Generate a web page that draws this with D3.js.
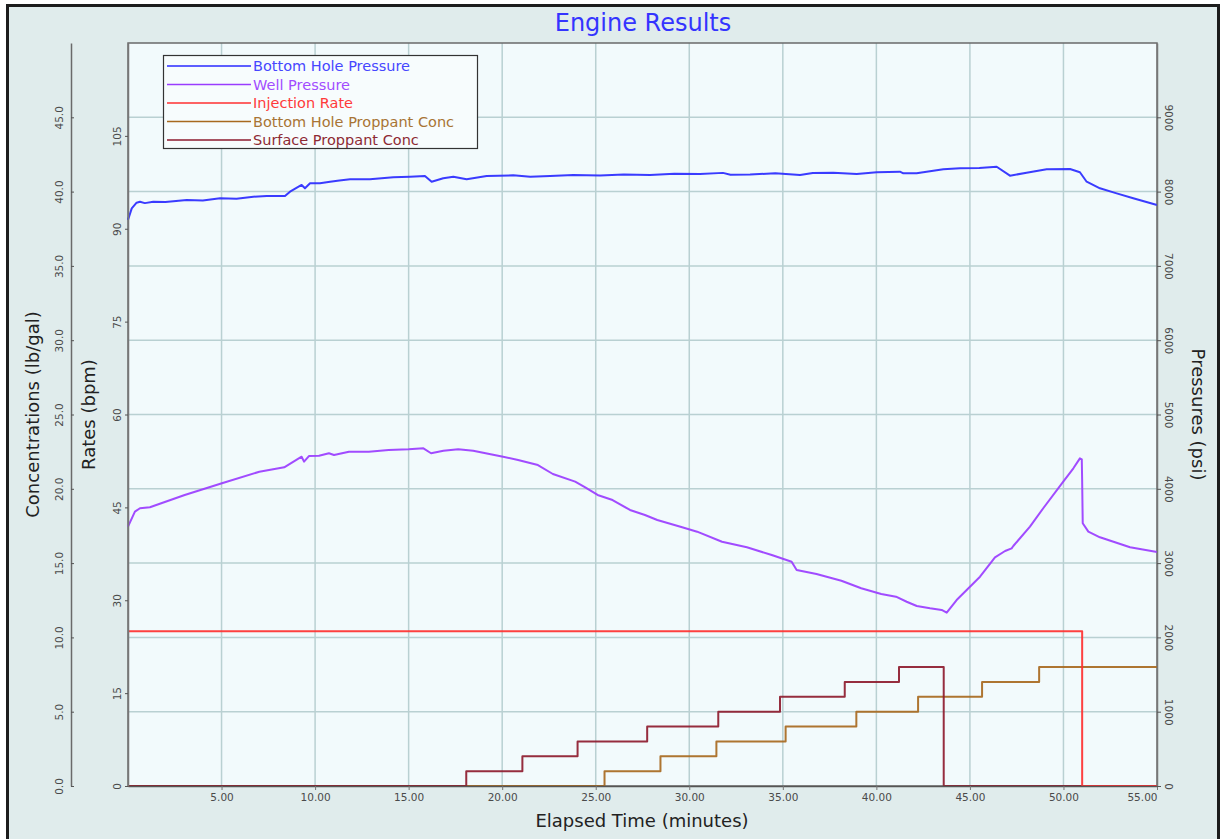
<!DOCTYPE html>
<html>
<head>
<meta charset="utf-8">
<script src="https://cdn.jsdelivr.net/npm/d3@7/dist/d3.min.js"></script>
<style>
  html, body { margin: 0; padding: 0; background: #ffffff; }
  svg { display: block; }
  text { font-family: "DejaVu Sans", Verdana, sans-serif; }
</style>
</head>
<body>
<svg id="chart" width="1225" height="839"></svg>
<script>
// ---- Bottom hole pressure (psi) vs elapsed time (min)
const bhpTime = [0.00,0.20,0.46,0.64,0.90,1.35,2.00,3.14,4.00,4.92,5.80,6.70,7.41,8.39,8.66,9.28,9.46,9.73,10.26,10.80,11.30,11.87,12.93,14.18,15.07,15.87,16.23,16.85,17.39,18.10,19.17,20.59,21.50,22.56,23.80,25.23,26.50,27.90,29.20,30.57,31.80,32.20,33.25,34.60,35.92,36.60,37.70,38.95,40.02,41.26,41.44,42.15,43.58,44.47,45.50,46.43,47.14,48.03,49.10,50.35,50.88,51.24,51.95,52.80,53.73,55.00];
const bhpPsi  = [7620,7775,7851,7864,7845,7864,7860,7887,7880,7910,7905,7931,7941,7941,7999,8089,8044,8112,8112,8133,8150,8165,8165,8192,8201,8210,8133,8179,8201,8165,8210,8219,8200,8210,8222,8217,8230,8223,8240,8237,8252,8228,8230,8248,8223,8250,8254,8237,8260,8268,8246,8246,8300,8314,8318,8335,8214,8254,8300,8304,8260,8133,8044,7980,7910,7820];

// ---- Well pressure (psi)
const wellTime = [0.00,0.37,0.64,1.17,3.03,5.02,7.02,8.35,9.28,9.41,9.67,10.21,10.74,11.01,11.81,12.87,13.93,15.00,15.79,16.20,16.86,17.65,18.45,20.05,20.85,21.91,22.71,23.90,24.44,25.10,25.90,26.83,27.63,28.29,29.62,30.42,31.75,33.08,34.41,35.47,35.74,36.80,38.13,39.19,40.26,41.05,41.62,42.16,42.87,43.49,43.76,44.29,45.54,46.34,46.88,47.23,47.32,48.21,48.92,49.99,50.53,50.88,50.98,51.00,51.03,51.33,51.95,53.56,55.00];
const wellPsi  = [3490,3692,3738,3751,3917,4074,4230,4289,4432,4365,4441,4445,4478,4455,4499,4499,4522,4532,4545,4478,4513,4532,4513,4432,4388,4320,4199,4096,4020,3917,3849,3715,3647,3580,3482,3423,3288,3213,3109,3019,2907,2853,2763,2661,2584,2548,2480,2423,2392,2369,2332,2503,2817,3078,3163,3199,3230,3490,3738,4096,4276,4410,4397,4096,3536,3423,3347,3213,3149];

// ---- Injection rate (bpm), held until the next time
const rateTime = [0, 51.0, 55];
const rateBpm  = [25, 0, 0];

// ---- Proppant concentrations (lb/gal), held until the next time
const bhConcTime = [0, 25.47, 28.46, 31.45, 35.15, 38.93, 42.23, 45.65, 48.70, 55];
const bhConcVal  = [0, 1, 2, 3, 4, 5, 6, 7, 8, 8];
const sfConcTime = [0, 18.08, 21.08, 24.03, 27.75, 31.55, 34.85, 38.31, 41.21, 43.60, 55];
const sfConcVal  = [0, 1, 2, 3, 4, 5, 6, 7, 8, 0, 0];

// ---- Axis ticks
const timeTicks  = [5, 10, 15, 20, 25, 30, 35, 40, 45, 50, 55];
const concTicks  = [0, 5, 10, 15, 20, 25, 30, 35, 40, 45];
const rateTicks  = [0, 15, 30, 45, 60, 75, 90, 105];
const psiTicks   = [0, 1000, 2000, 3000, 4000, 5000, 6000, 7000, 8000, 9000];

const legendNames = ["Bottom Hole Pressure", "Well Pressure", "Injection Rate", "Bottom Hole Proppant Conc", "Surface Proppant Conc"];

// ---- Layout
const plot = { left: 128, right: 1157, top: 43, bottom: 786 };
const midY = (plot.top + plot.bottom) / 2;
const colors = {
  bhp: "#2a2aff", well: "#9a3cff", rate: "#ff3030",
  bhConc: "#a8691f", sfConc: "#8e1b2e"
};
const legendText = ["#4646ff", "#a24cff", "#ff3a3a", "#a87434", "#8e2a34"];

const svg = d3.select("#chart");

// outer panel
svg.append("rect").attr("x", 7.5).attr("y", 5.5).attr("width", 1211).attr("height", 845)
  .attr("fill", "#e0ecec").attr("stroke", "#1c1c1c").attr("stroke-width", 3);

// scales
const x = d3.scaleLinear().domain([0, 55]).range([plot.left, plot.right]);
const yPsi = d3.scaleLinear().domain([0, 10000]).range([plot.bottom, plot.top]);
const yRate = d3.scaleLinear().domain([0, 120]).range([plot.bottom, plot.top]);
const yConc = d3.scaleLinear().domain([0, 50]).range([plot.bottom, plot.top]);

// plot background
svg.append("rect").attr("x", plot.left).attr("y", plot.top)
  .attr("width", plot.right - plot.left).attr("height", plot.bottom - plot.top)
  .attr("fill", "#f2fafc");

// grid
const grid = svg.append("g").attr("stroke", "#b9d0d2").attr("stroke-width", 1.5);
grid.selectAll("line.v").data(timeTicks.filter(t => t < 55)).join("line")
  .attr("x1", d => x(d)).attr("x2", d => x(d))
  .attr("y1", plot.top).attr("y2", plot.bottom);
grid.selectAll("line.h").data(psiTicks.filter(p => p > 0)).join("line")
  .attr("y1", d => yPsi(d)).attr("y2", d => yPsi(d))
  .attr("x1", plot.left).attr("x2", plot.right);

// plot frame
svg.append("rect").attr("x", plot.left).attr("y", plot.top)
  .attr("width", plot.right - plot.left).attr("height", plot.bottom - plot.top)
  .attr("fill", "none").attr("stroke", "#6a6a6a").attr("stroke-width", 1.5);

// series
const zip = (a, b) => a.map((v, i) => [v, b[i]]);
function drawLine(data, yScale, color, curve) {
  const gen = d3.line().x(d => x(d[0])).y(d => yScale(d[1]));
  if (curve) gen.curve(curve);
  svg.append("path").datum(data).attr("d", gen)
    .attr("fill", "none").attr("stroke", color).attr("stroke-width", 2)
    .attr("stroke-linejoin", "round").attr("stroke-opacity", 0.92);
}
drawLine(zip(bhConcTime, bhConcVal), yConc, colors.bhConc, d3.curveStepAfter);
drawLine(zip(sfConcTime, sfConcVal), yConc, colors.sfConc, d3.curveStepAfter);
drawLine(zip(rateTime, rateBpm), yRate, colors.rate, d3.curveStepAfter);
drawLine(zip(wellTime, wellPsi), yPsi, colors.well);
drawLine(zip(bhpTime, bhpPsi), yPsi, colors.bhp);

// axes
const tickColor = "#4a4a4a";
const tickFont = "10.5px";

// bottom time axis
const xAxis = svg.append("g").attr("transform", `translate(0,${plot.bottom})`)
  .call(d3.axisBottom(x).tickValues(timeTicks).tickSize(4).tickSizeOuter(0).tickFormat(d3.format(".2f")));
xAxis.select(".domain").attr("stroke", "#555").attr("stroke-width", 1.5);
xAxis.selectAll(".tick line").attr("stroke", "#777");
xAxis.selectAll(".tick text").attr("fill", tickColor).style("font-size", tickFont).attr("y", 8)
  .filter(d => d === 55).attr("text-anchor", "end").attr("x", 0);

// rates axis (on plot left edge)
const rAxis = svg.append("g").attr("transform", `translate(${plot.left},0)`)
  .call(d3.axisLeft(yRate).tickValues(rateTicks).tickSize(3).tickSizeOuter(0).tickFormat(d3.format("d")));
rAxis.select(".domain").attr("stroke", "#777").attr("stroke-width", 1.5);
rAxis.selectAll(".tick line").attr("stroke", "#555");
rAxis.selectAll(".tick text").attr("fill", tickColor).style("font-size", tickFont)
  .attr("text-anchor", "middle").attr("dominant-baseline", "central")
  .attr("x", 0).attr("dy", null)
  .attr("transform", "translate(-11,0) rotate(-90)");

// concentrations axis (free-standing)
const cAxis = svg.append("g").attr("transform", "translate(71,0)")
  .call(d3.axisRight(yConc).tickValues(concTicks).tickSize(3).tickSizeOuter(0).tickFormat(d3.format(".1f")));
cAxis.select(".domain").attr("stroke", "#6a6a6a").attr("stroke-width", 1.5);
cAxis.selectAll(".tick line").attr("stroke", "#555");
cAxis.selectAll(".tick text").attr("fill", tickColor).style("font-size", tickFont)
  .attr("text-anchor", "middle").attr("dominant-baseline", "central")
  .attr("x", 0).attr("dy", null)
  .attr("transform", "translate(-12,0) rotate(-90)");

// pressures axis (right)
const pAxis = svg.append("g").attr("transform", `translate(${plot.right},0)`)
  .call(d3.axisRight(yPsi).tickValues(psiTicks).tickSize(4).tickSizeOuter(0).tickFormat(d3.format("d")));
pAxis.select(".domain").attr("stroke", "#777").attr("stroke-width", 1.5);
pAxis.selectAll(".tick line").attr("stroke", "#555");
pAxis.selectAll(".tick text").attr("fill", tickColor).style("font-size", tickFont)
  .attr("text-anchor", "middle").attr("dominant-baseline", "central")
  .attr("x", 0).attr("dy", null)
  .attr("transform", "translate(12,0) rotate(90)");

// titles
svg.append("text").attr("x", 643).attr("y", 23).attr("text-anchor", "middle")
  .attr("dominant-baseline", "central").attr("fill", "#3434ff")
  .style("font-size", "24px").text("Engine Results");

svg.append("text").attr("x", 642).attr("y", 820).attr("text-anchor", "middle")
  .attr("dominant-baseline", "central").attr("fill", "#222")
  .style("font-size", "18px").text("Elapsed Time (minutes)");

svg.append("text").attr("text-anchor", "middle").attr("dominant-baseline", "central")
  .attr("transform", `translate(32,${midY}) rotate(-90)`).attr("fill", "#222")
  .style("font-size", "18px").text("Concentrations (lb/gal)");

svg.append("text").attr("text-anchor", "middle").attr("dominant-baseline", "central")
  .attr("transform", `translate(88,${midY}) rotate(-90)`).attr("fill", "#222")
  .style("font-size", "18px").text("Rates (bpm)");

svg.append("text").attr("text-anchor", "middle").attr("dominant-baseline", "central")
  .attr("transform", `translate(1198,${midY}) rotate(90)`).attr("fill", "#222")
  .style("font-size", "18px").text("Pressures (psi)");

// legend
const legend = svg.append("g");
legend.append("rect").attr("x", 163.5).attr("y", 55.5).attr("width", 314).attr("height", 93)
  .attr("fill", "#f7fcfd").attr("stroke", "#333").attr("stroke-width", 1.2);
const lineColors = [colors.bhp, colors.well, colors.rate, colors.bhConc, colors.sfConc];
const rowY = d3.scalePoint().domain(d3.range(legendNames.length)).range([66, 140]);
legendNames.forEach((name, i) => {
  legend.append("line").attr("x1", 167).attr("x2", 251)
    .attr("y1", rowY(i)).attr("y2", rowY(i))
    .attr("stroke", lineColors[i]).attr("stroke-width", 1.5);
  legend.append("text").attr("x", 253).attr("y", rowY(i)).attr("dominant-baseline", "central")
    .attr("fill", legendText[i]).style("font-size", "14.5px").text(name);
});
</script>
</body>
</html>
